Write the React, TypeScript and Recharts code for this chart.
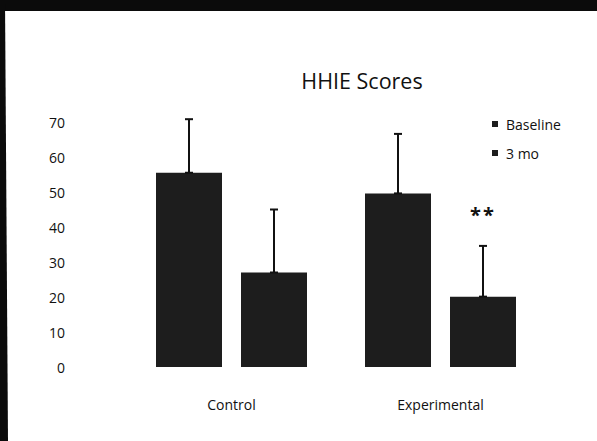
import React from "react";
import { Bar, BarChart, ErrorBar, LabelList, XAxis, YAxis } from "recharts";

// HHIE scores, baseline vs 3 months, with upward SD whiskers
const categories = ["Control", "Experimental"];
const baselineScores = [55.5, 49.6];
const threeMoScores = [27, 20.1];
const baselineErr = [15.3, 17];
const threeMoErr = [18, 14.5];
const sigMarks = ["", "**"];
const seriesNames = ["Baseline", "3 mo"];
const yTicks = [0, 10, 20, 30, 40, 50, 60, 70];

const FONT = "'Open Sans', 'DejaVu Sans', sans-serif";
const BAR_FILL = "#1d1d1d";

const data = categories.map((name, i) => ({
	name,
	baseline: baselineScores[i],
	threeMo: threeMoScores[i],
	baselineErr: [0, baselineErr[i]],
	threeMoErr: [0, threeMoErr[i]],
}));

function YTick({ y, payload }: any) {
	return (
		<text x={65} y={y} textAnchor="end" dominantBaseline="central" fontSize={14} fill="#111" fontFamily={FONT}>
			{payload.value}
		</text>
	);
}

function XTick({ x, y, payload }: any) {
	return (
		<text x={x} y={y + 29} textAnchor="middle" dominantBaseline="central" fontSize={14} fill="#111" fontFamily={FONT}>
			{payload.value}
		</text>
	);
}

function SigLabel({ x, y, width, height, value, index }: any) {
	const mark = sigMarks[index];
	if (!mark) return null;
	const pxPerUnit = height / value;
	const errTop = y - threeMoErr[index] * pxPerUnit;
	return (
		<text
			x={x + width / 2}
			y={errTop - 24}
			textAnchor="middle"
			fontSize={20}
			fontWeight={700}
			letterSpacing={2}
			fill="#111"
			fontFamily={FONT}
		>
			{mark}
		</text>
	);
}

export default function App() {
	return (
		<div style={{ position: "absolute", left: 0, top: 0, width: 597, height: 441, background: "#fff", overflow: "hidden" }}>
			<style>{"html,body{margin:0;background:#fff}"}</style>
			{/* scanned page edges */}
			<div style={{ position: "absolute", left: 0, top: 0, width: 597, height: 11, background: "#0b0b0b" }} />
			<div
				style={{
					position: "absolute",
					left: 0,
					top: 0,
					width: 8,
					height: 441,
					background: "#0b0b0b",
					clipPath: "polygon(0 0, 5px 0, 8px 100%, 0 100%)",
				}}
			/>
			<div
				style={{
					position: "absolute",
					left: 262,
					top: 66,
					width: 200,
					textAlign: "center",
					fontFamily: FONT,
					fontSize: 21.5,
					color: "#111",
					lineHeight: "30px",
				}}
			>
				HHIE Scores
			</div>
			{/* legend */}
			<div style={{ position: "absolute", left: 492, top: 114, fontFamily: FONT, fontSize: 14, color: "#111" }}>
				{seriesNames.map((label) => (
					<div key={label} style={{ display: "flex", alignItems: "center", height: 20, marginBottom: 9 }}>
						<span style={{ width: 6, height: 6, background: BAR_FILL, marginRight: 8 }} />
						{label}
					</div>
				))}
			</div>
			<div style={{ position: "absolute", left: 0, top: 0 }}>
				<BarChart
					width={597}
					height={441}
					data={data}
					margin={{ top: 122, right: 52, bottom: 0, left: 0 }}
					barGap={19}
				>
					<XAxis dataKey="name" height={74} axisLine={false} tickLine={false} tick={<XTick />} />
					<YAxis
						width={127}
						domain={[0, 70]}
						ticks={yTicks}
						allowDataOverflow
						axisLine={false}
						tickLine={false}
						tick={<YTick />}
					/>
					<Bar dataKey="baseline" name={seriesNames[0]} fill={BAR_FILL} barSize={66} isAnimationActive={false}>
						<ErrorBar dataKey="baselineErr" width={4} stroke="#111" strokeWidth={2} isAnimationActive={false} />
					</Bar>
					<Bar dataKey="threeMo" name={seriesNames[1]} fill={BAR_FILL} barSize={66} isAnimationActive={false}>
						<ErrorBar dataKey="threeMoErr" width={4} stroke="#111" strokeWidth={2} isAnimationActive={false} />
						<LabelList dataKey="threeMo" content={<SigLabel />} />
					</Bar>
				</BarChart>
			</div>
		</div>
	);
}
